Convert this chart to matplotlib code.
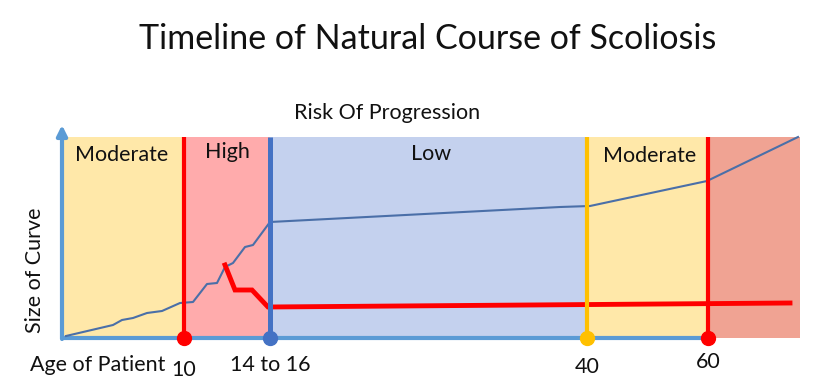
import matplotlib
matplotlib.use("Agg")
import matplotlib.pyplot as plt

# ---- data (diagram coordinates) ----
title = "Timeline of Natural Course of Scoliosis"
subtitle = "Risk Of Progression"
ylabel = "Size of Curve"
xlabel = "Age of Patient"

# risk zones: (start, end, label, colour)
zone_edges = [62, 184, 270, 587, 708, 800]
zone_labels = ["Moderate", "High", "Low", "Moderate", ""]
zone_colors = ["#ffe8a9", "#ffabac", "#c4d1ee", "#ffe8a9", "#f0a393"]
zone_label_x = [122, 227, 431, 650, None]
zone_label_y = [155, 152, 154, 156, None]

# age milestones
milestone_x = [184, 270, 587, 708]
milestone_labels = ["10", "14 to 16", "40", "60"]
milestone_label_y = [370, 365, 367, 362]
milestone_colors = ["#ff0000", "#4472c4", "#ffc000", "#ff0000"]

# natural course curve
curve_x = [66, 113, 122, 133, 147, 162, 180, 193, 207, 217, 225, 233, 245, 253,
           270, 560, 590, 707, 798]
curve_y = [336, 325, 320, 318, 313, 311, 303, 302, 284, 283, 267, 263, 247, 245,
           222, 207, 206, 181, 137]

# treated / braced curve
red_x = [225, 235, 252, 268, 790]
red_y = [265, 290, 290, 307, 303]

top, bottom = 137, 338

fig = plt.figure(figsize=(8.21, 3.89), dpi=100)
ax = fig.add_axes([0, 0, 1, 1])
ax.set_xlim(0, 821)
ax.set_ylim(389, 0)
ax.axis("off")

font = "Lato"
fs = 15.5

for i, lab in enumerate(zone_labels):
    x0, x1 = zone_edges[i], zone_edges[i + 1]
    ax.fill_between([x0, x1], top, bottom, color=zone_colors[i], lw=0, zorder=1)
    if lab:
        ax.text(zone_label_x[i], zone_label_y[i], lab, ha="center", va="center",
                fontsize=fs, family=font, color="#111111", zorder=6)

# x axis
ax.plot([62, 708], [bottom, bottom], color="#5b9bd5", lw=3, zorder=3,
        solid_capstyle="butt")
# y axis with arrow
ax.annotate("", xy=(62, 125), xytext=(62, bottom + 1),
            arrowprops=dict(arrowstyle="-|>,head_length=0.6,head_width=0.3",
                            color="#5b9bd5", lw=3, shrinkA=0, shrinkB=0),
            zorder=3)

# curves
ax.plot(curve_x, curve_y, color="#4a6fa8", lw=1.5, zorder=4)
ax.plot(red_x, red_y, color="#ff0000", lw=3.5, zorder=4, solid_joinstyle="miter")

# milestone lines and dots
lws = [3, 3.6, 3, 3]
for x, c, lw in zip(milestone_x, milestone_colors, lws):
    ax.plot([x, x], [top, bottom], color=c, lw=lw, zorder=5, solid_capstyle="butt")
    ax.plot([x], [bottom], "o", color=c, ms=10, zorder=6)

for x, lab, y in zip(milestone_x, milestone_labels, milestone_label_y):
    ax.text(x, y, lab, ha="center", va="center", fontsize=fs, family=font,
            color="#111111")

ax.text(30, 365, xlabel, ha="left", va="center", fontsize=fs, family=font,
        color="#111111")
ax.text(35, 270, ylabel, ha="center", va="center", rotation=90, fontsize=fs,
        family=font, color="#111111")
ax.text(387, 113, subtitle, ha="center", va="center", fontsize=fs,
        family=font, color="#111111")
ax.text(428, 39, title, ha="center", va="center", fontsize=24.5, family=font,
        color="#111111")

fig.savefig("out.png", dpi=100)
